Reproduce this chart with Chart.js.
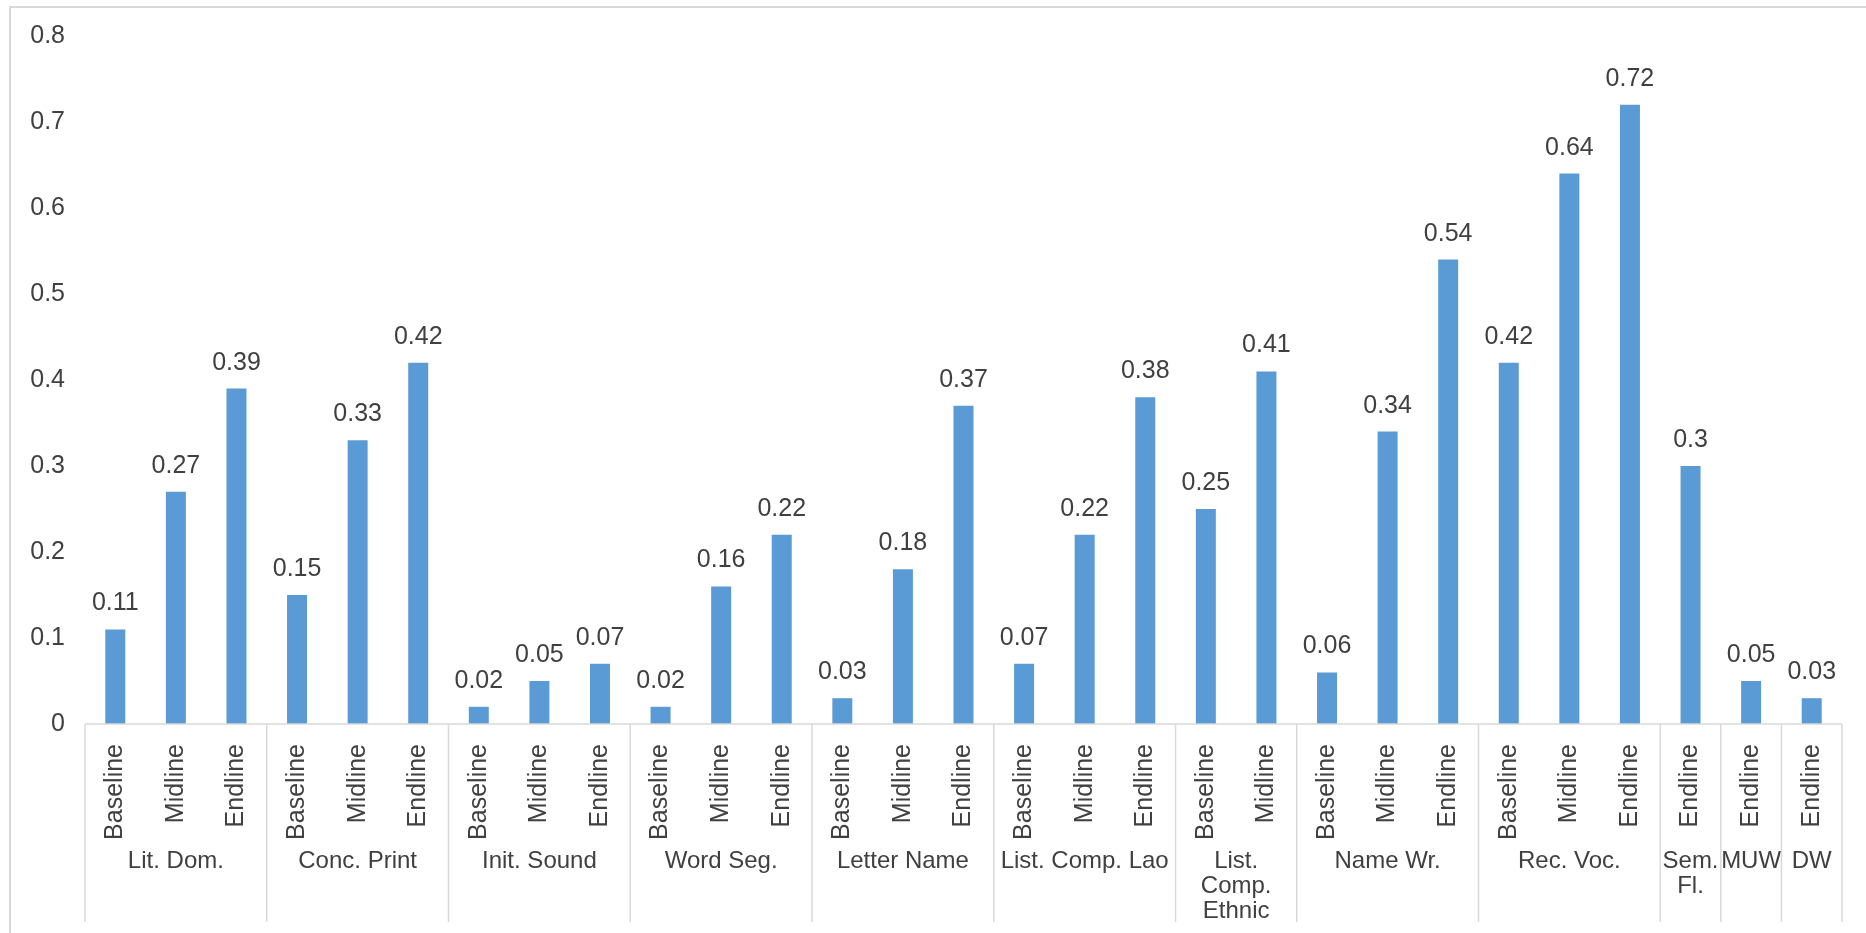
<!DOCTYPE html>
<html lang="en">
<head>
    <meta charset="UTF-8">
    <title>Literacy Scores by Round</title>
    <script src="https://cdn.jsdelivr.net/npm/chart.js"></script>
    <style>
        html, body {
            margin: 0;
            padding: 0;
            background: #ffffff;
        }
        .wrap {
            position: relative;
            width: 1866px;
            height: 933px;
        }
    </style>
</head>
<body>
    <div class="wrap">
        <canvas id="scoreChart" width="1866" height="933"></canvas>
    </div>

    <script>
        // group labels (one entry per line) and how many bars each group has
        const groups = [
            ['Lit. Dom.'], ['Conc. Print'], ['Init. Sound'], ['Word Seg.'],
            ['Letter Name'], ['List. Comp. Lao'], ['List.', 'Comp.', 'Ethnic'],
            ['Name Wr.'], ['Rec. Voc.'], ['Sem.', 'Fl.'], ['MUW'], ['DW']
        ];
        const rounds = [
            ['Baseline', 'Midline', 'Endline'],
            ['Baseline', 'Midline', 'Endline'],
            ['Baseline', 'Midline', 'Endline'],
            ['Baseline', 'Midline', 'Endline'],
            ['Baseline', 'Midline', 'Endline'],
            ['Baseline', 'Midline', 'Endline'],
            ['Baseline', 'Midline'],
            ['Baseline', 'Midline', 'Endline'],
            ['Baseline', 'Midline', 'Endline'],
            ['Endline'],
            ['Endline'],
            ['Endline']
        ];
        const scores = [
            [0.11, 0.27, 0.39],
            [0.15, 0.33, 0.42],
            [0.02, 0.05, 0.07],
            [0.02, 0.16, 0.22],
            [0.03, 0.18, 0.37],
            [0.07, 0.22, 0.38],
            [0.25, 0.41],
            [0.06, 0.34, 0.54],
            [0.42, 0.64, 0.72],
            [0.3],
            [0.05],
            [0.03]
        ];
        const yTicks = [0, 0.1, 0.2, 0.3, 0.4, 0.5, 0.6, 0.7, 0.8];

        const labels = rounds.flat();
        const values = scores.flat();

        const textColor = '#404040';
        const lineColor = '#d9d9d9';
        const fontFamily = '"Liberation Sans", Arial, sans-serif';
        const fontSize = 25;

        // value labels above each bar
        const valueLabels = {
            id: 'valueLabels',
            afterDatasetsDraw(chart) {
                const ctx = chart.ctx;
                const meta = chart.getDatasetMeta(0);
                ctx.save();
                ctx.font = fontSize + 'px ' + fontFamily;
                ctx.fillStyle = textColor;
                ctx.textAlign = 'center';
                ctx.textBaseline = 'alphabetic';
                meta.data.forEach((bar, i) => {
                    ctx.fillText(String(values[i]), bar.x, bar.y - 19);
                });
                ctx.restore();
            }
        };

        // outer frame, x axis line, group separators and group labels
        const groupAxis = {
            id: 'groupAxis',
            beforeDraw(chart) {
                const ctx = chart.ctx;
                ctx.save();
                ctx.strokeStyle = lineColor;
                ctx.lineWidth = 2;
                ctx.beginPath();
                ctx.moveTo(10, chart.height);
                ctx.lineTo(10, 7);
                ctx.lineTo(chart.width, 7);
                ctx.stroke();
                ctx.restore();
            },
            afterDraw(chart) {
                const ctx = chart.ctx;
                const x = chart.scales.x;
                const area = chart.chartArea;
                const bottom = chart.height - 11;
                const step = x.getPixelForValue(1) - x.getPixelForValue(0);

                ctx.save();
                ctx.strokeStyle = lineColor;
                ctx.lineWidth = 1.5;
                ctx.beginPath();
                ctx.moveTo(area.left, area.bottom);
                ctx.lineTo(area.right, area.bottom);
                ctx.stroke();

                ctx.font = '24px ' + fontFamily;
                ctx.fillStyle = textColor;
                ctx.textAlign = 'center';
                ctx.textBaseline = 'middle';

                let idx = 0;
                groups.forEach((g, gi) => {
                    const n = rounds[gi].length;
                    const left = x.getPixelForValue(idx) - step / 2;
                    const right = x.getPixelForValue(idx + n - 1) + step / 2;
                    ctx.beginPath();
                    ctx.moveTo(left, area.bottom);
                    ctx.lineTo(left, bottom);
                    if (gi === groups.length - 1) {
                        ctx.moveTo(right, area.bottom);
                        ctx.lineTo(right, bottom);
                    }
                    ctx.stroke();
                    g.forEach((line, li) => {
                        ctx.fillText(line, (left + right) / 2, 861 + li * 25);
                    });
                    idx += n;
                });
                ctx.restore();
            }
        };

        const ctx = document.getElementById('scoreChart').getContext('2d');
        new Chart(ctx, {
            type: 'bar',
            data: {
                labels: labels,
                datasets: [{
                    data: values,
                    backgroundColor: '#5b9bd5',
                    borderWidth: 0,
                    categoryPercentage: 1,
                    barPercentage: 0.33
                }]
            },
            options: {
                responsive: false,
                animation: false,
                layout: {
                    padding: { top: 36, right: 24, bottom: 11, left: 0 }
                },
                plugins: {
                    legend: { display: false },
                    tooltip: { enabled: false }
                },
                scales: {
                    x: {
                        grid: { display: false },
                        border: { display: false },
                        afterFit(scale) { scale.height = 198; },
                        ticks: {
                            autoSkip: false,
                            minRotation: 90,
                            maxRotation: 90,
                            padding: 12,
                            color: textColor,
                            font: { family: fontFamily, size: fontSize }
                        }
                    },
                    y: {
                        min: 0,
                        max: 0.8,
                        grid: { display: false, drawTicks: false },
                        border: { display: false },
                        afterFit(scale) { scale.width = 85; },
                        afterBuildTicks(scale) {
                            scale.ticks = yTicks.map(v => ({ value: v }));
                        },
                        ticks: {
                            padding: 20,
                            color: textColor,
                            font: { family: fontFamily, size: fontSize },
                            callback: v => String(v)
                        }
                    }
                }
            },
            plugins: [valueLabels, groupAxis]
        });
    </script>
</body>
</html>
